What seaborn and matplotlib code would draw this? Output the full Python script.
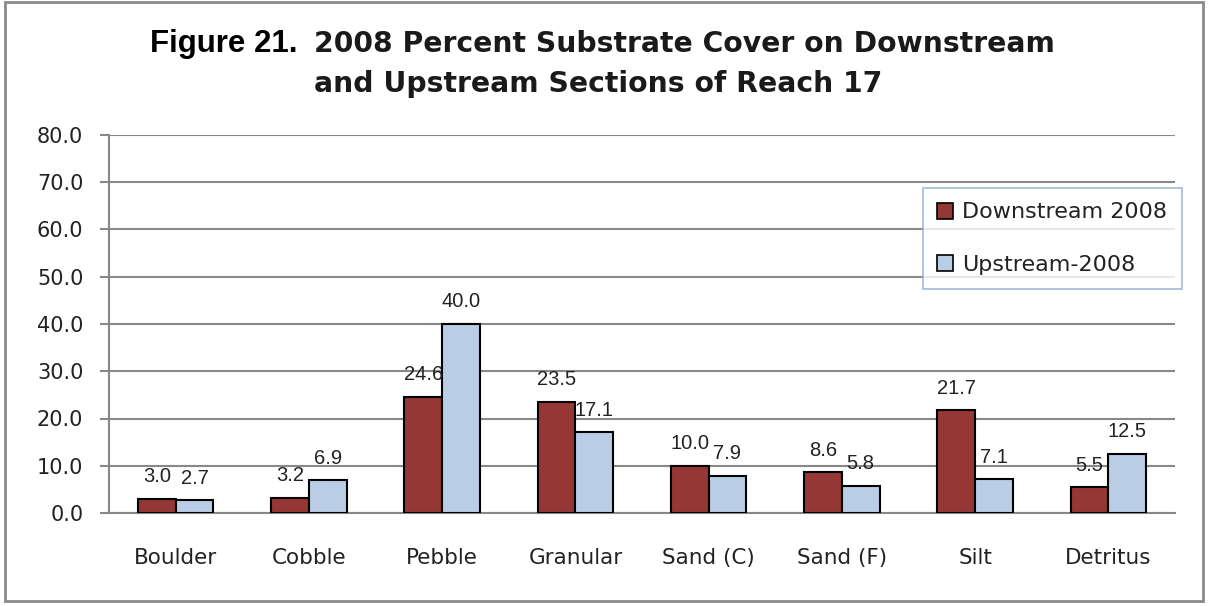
import matplotlib
matplotlib.use("Agg")
import matplotlib.pyplot as plt
import matplotlib.patches as mpatches
import seaborn as sns
import pandas as pd
import numpy as np

categories = ["Boulder", "Cobble", "Pebble", "Granular", "Sand (C)", "Sand (F)", "Silt", "Detritus"]
downstream_2008 = [3.0, 3.2, 24.6, 23.5, 10.0, 8.6, 21.7, 5.5]
upstream_2008 = [2.7, 6.9, 40.0, 17.1, 7.9, 5.8, 7.1, 12.5]
series_names = ["Downstream 2008", "Upstream-2008"]
y_ticks = [0, 10, 20, 30, 40, 50, 60, 70, 80]

df = pd.DataFrame({
    "Substrate": categories * 2,
    "Percent": downstream_2008 + upstream_2008,
    "Series": [series_names[0]] * len(categories) + [series_names[1]] * len(categories),
})

sns.set_theme(style="white")
plt.rcParams["font.family"] = ["DejaVu Sans"]

W, H = 1208, 606
fig = plt.figure(figsize=(W / 100, H / 100), dpi=100)
ax = fig.add_axes([109 / W, 1 - 513 / H, (1175 - 109) / W, (513 - 135) / H])

palette = {series_names[0]: "#953735", series_names[1]: "#B9CDE5"}
sns.barplot(data=df, x="Substrate", y="Percent", hue="Series", order=categories,
            hue_order=series_names, palette=palette, width=0.565, gap=0,
            edgecolor="black", linewidth=1.5, saturation=1, ax=ax, zorder=3)

# value labels above each bar
for container in ax.containers:
    ax.bar_label(container, fmt="%.1f", padding=9, fontsize=14.5,
                 family="Liberation Sans", color="#222222")

ax.set_ylim(0, 80)
ax.set_xlim(-0.5, len(categories) - 0.5)
ax.set_yticks(y_ticks)
ax.set_yticklabels([f"{v:.1f}" for v in y_ticks], fontsize=15, color="#222222")
ax.set_xticks(range(len(categories)))
ax.set_xticklabels(categories, fontsize=15.5, color="#222222")
ax.set_xticks(np.arange(-0.5, len(categories), 1.0), minor=True)
ax.tick_params(axis="x", which="major", length=0, pad=25)
ax.tick_params(axis="x", which="minor", length=7, width=1.5, color="#888888", direction="out")
ax.tick_params(axis="y", length=6.5, width=1.5, color="#888888", direction="out", left=True, pad=12)
ax.set_xlabel("")
ax.set_ylabel("")

ax.yaxis.grid(True, color="#888888", linewidth=1.5, zorder=0)
ax.set_axisbelow(True)
for side in ["top", "right"]:
    ax.spines[side].set_visible(False)
for side in ["left", "bottom"]:
    ax.spines[side].set_color("#888888")
    ax.spines[side].set_linewidth(1.5)

ax.get_legend().remove()
handles = [mpatches.Patch(facecolor=palette[s], edgecolor="black", linewidth=1.2) for s in series_names]
leg = fig.legend(handles, series_names, loc="upper left", bbox_to_anchor=(923 / W, 1 - 188 / H),
                 borderaxespad=0, frameon=True, fancybox=False, fontsize=16,
                 handlelength=0.72, handleheight=0.72, handletextpad=0.4,
                 labelspacing=1.45, borderpad=0.65)
leg.get_frame().set_edgecolor("#8EA9CC")
leg.get_frame().set_linewidth(1.2)
for t in leg.get_texts():
    t.set_color("#222222")

# two-part title: figure number, then the caption block
fig.text(298 / W, 1 - 52 / H, "Figure 21.", ha="right", va="baseline",
         fontsize=22.5, fontweight="bold", family="Liberation Sans", color="black")
fig.text(314 / W, 1 - 52 / H, "2008 Percent Substrate Cover on Downstream",
         ha="left", va="baseline", fontsize=20.3, fontweight="bold",
         family="DejaVu Sans", color="#1a1a1a")
fig.text(314 / W, 1 - 92 / H, "and Upstream Sections of Reach 17",
         ha="left", va="baseline", fontsize=20.3, fontweight="bold",
         family="DejaVu Sans", color="#1a1a1a")

# outer frame around the chart
fig.patches.append(mpatches.Rectangle((0.004, 0.008), 0.992, 0.988, transform=fig.transFigure,
                                      fill=False, edgecolor="#8a8a8a", linewidth=2))

fig.savefig("out.png", dpi=100)
